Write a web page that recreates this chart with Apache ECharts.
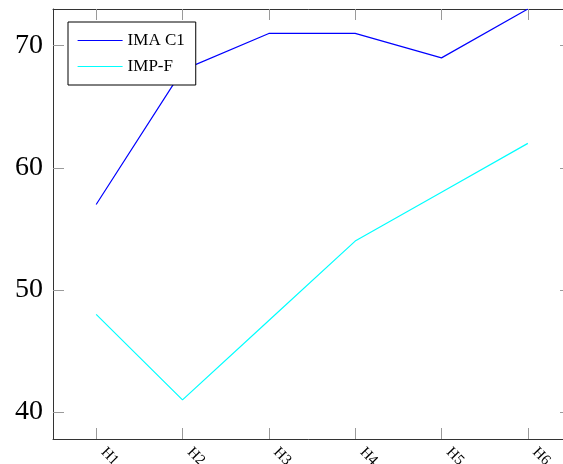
<!DOCTYPE html>
<html>
<head>
<meta charset="utf-8">
<script src="https://cdn.jsdelivr.net/npm/echarts@6/dist/echarts.min.js"></script>
<style>
  html, body { margin: 0; padding: 0; background: #fff; }
  #chart { width: 563px; height: 464px; }
</style>
</head>
<body>
<div id="chart"></div>
<script>
// Categories and series values
const categories = ['H1', 'H2', 'H3', 'H4', 'H5', 'H6'];
const imaC1 = [57, 68, 71, 71, 69, 73];
const impF = [48, 41, 47.5, 54, 58, 62];
const yTicks = [40, 50, 60, 70];
const yMin = 37.8;
const yMax = 73;

const serif = 'Liberation Serif';
const frameColor = '#333';
const tickColor = '#9a9a9a';
const blue = '#0000ff';
const cyan = '#00ffff';

const chart = echarts.init(document.getElementById('chart'), null, { renderer: 'canvas' });

// The plot box runs a little past the right edge of the canvas
chart.setOption({
  animation: false,
  backgroundColor: '#fff',
  grid: { left: 53, top: 9, width: 518, height: 430, containLabel: false, outerBoundsMode: 'none' },
  legend: {
    orient: 'vertical',
    left: 68,
    top: 22,
    padding: [10, 11, 10, 9],
    itemWidth: 45,
    itemHeight: 14,
    itemGap: 9,
    borderColor: '#000',
    borderWidth: 1,
    borderRadius: 0,
    backgroundColor: '#fff',
    // plain line samples, no marker on them
    itemStyle: { opacity: 0 },
    lineStyle: { width: 1.2 },
    textStyle: { fontFamily: serif, fontSize: 17, color: '#000', padding: [0, 0, 0, 0] },
    data: ['IMA C1', 'IMP-F']
  },
  xAxis: [
    {
      type: 'category',
      data: categories,
      position: 'bottom',
      boundaryGap: true,
      axisLine: { show: true, lineStyle: { color: frameColor, width: 1 } },
      axisTick: { show: true, inside: true, length: 11, alignWithLabel: true, lineStyle: { color: tickColor } },
      axisLabel: { fontFamily: serif, fontSize: 15, color: '#000', rotate: -45, margin: 4, padding: [0, 0, 0, 10] },
      splitLine: { show: false }
    },
    {
      type: 'category',
      data: categories,
      position: 'top',
      boundaryGap: true,
      axisLine: { show: true, lineStyle: { color: frameColor, width: 1 } },
      axisTick: { show: true, inside: true, length: 11, alignWithLabel: true, lineStyle: { color: tickColor } },
      axisLabel: { show: false },
      splitLine: { show: false }
    }
  ],
  yAxis: [
    {
      type: 'value',
      position: 'left',
      min: yMin,
      max: yMax,
      axisLine: { show: true, lineStyle: { color: frameColor, width: 1 } },
      axisTick: { show: true, inside: true, length: 11, customValues: yTicks, lineStyle: { color: tickColor } },
      axisLabel: { fontFamily: serif, fontSize: 28, color: '#000', margin: 10, customValues: yTicks },
      splitLine: { show: false }
    },
    {
      type: 'value',
      position: 'right',
      min: yMin,
      max: yMax,
      axisLine: { show: true, lineStyle: { color: frameColor, width: 1 } },
      axisTick: { show: true, inside: true, length: 11, customValues: yTicks, lineStyle: { color: tickColor } },
      axisLabel: { show: false },
      splitLine: { show: false }
    }
  ],
  series: [
    {
      name: 'IMA C1',
      type: 'line',
      data: imaC1,
      xAxisIndex: 0,
      yAxisIndex: 0,
      symbol: 'none',
      itemStyle: { color: blue },
      lineStyle: { color: blue, width: 1.2 }
    },
    {
      name: 'IMP-F',
      type: 'line',
      data: impF,
      xAxisIndex: 0,
      yAxisIndex: 0,
      symbol: 'none',
      itemStyle: { color: cyan },
      lineStyle: { color: cyan, width: 1.2 }
    }
  ]
});
</script>
</body>
</html>
